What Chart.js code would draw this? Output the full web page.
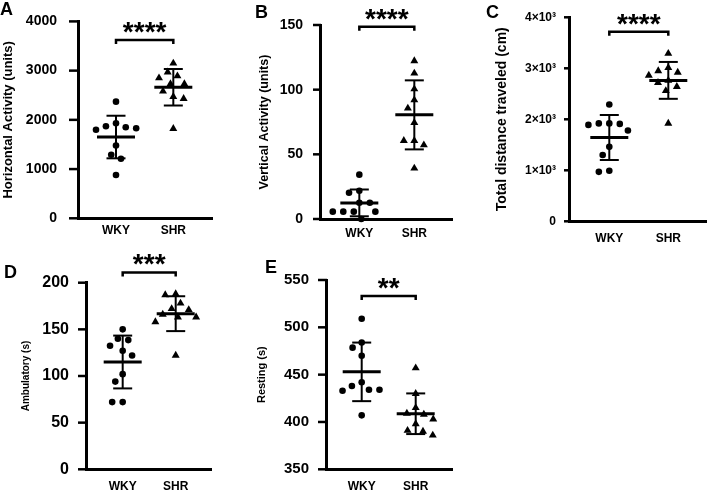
<!DOCTYPE html>
<html>
<head>
<meta charset="utf-8">
<script src="https://cdn.jsdelivr.net/npm/chart.js@4.4.0/dist/chart.umd.min.js"></script>
<style>
  body { margin: 0; background: #fff; width: 708px; height: 492px; position: relative; overflow: hidden; font-family: "Liberation Sans", Arial, sans-serif; }
  canvas { position: absolute; }
  .letter { position: absolute; font-weight: bold; font-size: 18px; line-height: 1; color: #000; }
</style>
</head>
<body>
<canvas id="cA" width="232" height="245" style="left:0;top:0"></canvas>
<canvas id="cB" width="236" height="245" style="left:232px;top:0"></canvas>
<canvas id="cC" width="238" height="252" style="left:470px;top:0"></canvas>
<canvas id="cD" width="232" height="247" style="left:0;top:245px"></canvas>
<canvas id="cE" width="236" height="247" style="left:232px;top:245px"></canvas>
<div class="letter" style="left:0;top:0">A</div>
<div class="letter" style="left:255px;top:3px">B</div>
<div class="letter" style="left:486px;top:3px">C</div>
<div class="letter" style="left:4px;top:263px">D</div>
<div class="letter" style="left:265px;top:258px">E</div>
<script>
// values
const groups = ['WKY', 'SHR'];

const horizWKY = [2370, 1850, 1930, 1800, 1830, 1870, 1480, 1290, 1210, 880];
const horizSHR = [3150, 2970, 2850, 2890, 2730, 2730, 2580, 2470, 2430, 1820];
const horizTicks = [0, 1000, 2000, 3000, 4000];

const vertWKY = [34.3, 20.3, 21.9, 12.6, 12.6, 5.7, 5.7, 5.7, 5.7, 0];
const vertSHR = [122.2, 112.7, 100.5, 92, 85.6, 74.5, 60.6, 57.2, 60.6, 39.2];
const vertTicks = [0, 50, 100, 150];

const distWKY = [2290, 1910, 1920, 1890, 1920, 1780, 1460, 1300, 970, 990];
const distSHR = [3290, 3010, 2950, 2920, 2860, 2720, 2760, 2640, 2560, 1920];
const distTicks = [0, 1000, 2000, 3000, 4000];
const distTickLabels = ['0', '1×10³', '2×10³', '3×10³', '4×10³'];

const ambWKY = [150, 140, 138.5, 132.5, 127, 122, 102, 94, 72, 72];
const ambSHR = [187, 188, 178, 172, 171, 166, 163, 163, 158, 122];
const ambTicks = [0, 50, 100, 150, 200];

const restWKY = [509, 484, 478.5, 470, 438, 442, 434, 434, 433, 407];
const restSHR = [457, 430, 415, 409, 408, 403, 398, 391, 390, 386];
const restTicks = [350, 400, 450, 500, 550];

// significance brackets
const sigLevels = [3620, 148.7, 3718, 211, 533];
const sigLabels = ['****', '****', '****', '***', '**'];

const FONT = '"Liberation Sans", Arial, sans-serif';
const DIAM = 10.5;

function line(ctx, x0, y0, x1, y1) {
  ctx.beginPath(); ctx.moveTo(x0, y0); ctx.lineTo(x1, y1); ctx.stroke();
}

// y tick marks, mean +/- SD and the significance bracket
const statsPlugin = {
  id: 'stats',
  afterDraw(chart, args, opts) {
    const { ctx } = chart;
    const x = chart.scales.x, y = chart.scales.y;
    const left = chart.chartArea.left;
    ctx.save();
    ctx.strokeStyle = '#000';
    ctx.fillStyle = '#000';
    ctx.lineWidth = 2.5;
    y.ticks.forEach(t => {
      const py = y.getPixelForValue(t.value);
      line(ctx, left - opts.tickLen, py, left + 1, py);
    });
    chart.data.datasets.forEach((ds, g) => {
      const vals = ds.values, n = vals.length;
      const m = vals.reduce((a, b) => a + b, 0) / n;
      const sd = Math.sqrt(vals.reduce((a, b) => a + (b - m) * (b - m), 0) / (n - 1));
      const cx = x.getPixelForValue(g);
      const yt = y.getPixelForValue(m + sd), yb = y.getPixelForValue(m - sd), ym = y.getPixelForValue(m);
      ctx.lineWidth = 2;
      line(ctx, cx, yt, cx, yb);
      line(ctx, cx - 9.5, yt, cx + 9.5, yt);
      line(ctx, cx - 9.5, yb, cx + 9.5, yb);
      ctx.lineWidth = 3;
      line(ctx, cx - 19, ym, cx + 19, ym);
    });
    const by = y.getPixelForValue(opts.level);
    const x0 = x.getPixelForValue(0), x1 = x.getPixelForValue(1);
    ctx.lineWidth = 2.5;
    ctx.beginPath();
    ctx.moveTo(x0, by + 4); ctx.lineTo(x0, by); ctx.lineTo(x1, by); ctx.lineTo(x1, by + 4);
    ctx.stroke();
    ctx.font = 'bold 28px ' + FONT;
    ctx.textAlign = 'center';
    ctx.textBaseline = 'alphabetic';
    ctx.fillText(opts.label, (x0 + x1) / 2, by - 14 + 15);
    ctx.restore();
  }
};

// column scatter: spread points sideways so they don't overlap
function swarm(chart) {
  const xs = chart.scales.x, ys = chart.scales.y;
  const unit = xs.getPixelForValue(1) - xs.getPixelForValue(0);
  chart.data.datasets.forEach((ds, g) => {
    const pts = ds.values.map((v, i) => ({ i, v, py: ys.getPixelForValue(v), dx: 0 }));
    pts.sort((a, b) => a.py - b.py);
    const placed = [];
    pts.forEach(p => {
      const cands = [0];
      placed.forEach(q => {
        const dy = Math.abs(p.py - q.py);
        if (dy < DIAM) {
          const w = Math.sqrt(DIAM * DIAM - dy * dy);
          cands.push(q.dx + w, q.dx - w);
        }
      });
      const ok = cands.filter(c => placed.every(q => Math.hypot(c - q.dx, p.py - q.py) >= DIAM - 0.01));
      ok.sort((a, b) => Math.abs(a) - Math.abs(b) || a - b);
      p.dx = ok[0];
      placed.push(p);
    });
    const data = [];
    pts.forEach(p => { data[p.i] = { x: g + p.dx / unit, y: p.v }; });
    ds.data = data;
  });
  chart.update('none');
}

function makePanel(id, box, area, wky, shr, ticks, tickLabels, yTitle, sigIdx, st) {
  const [bl, bt, bw, bh] = box;
  const [al, at, ar, ab, xmin, xmax] = area;
  const chart = new Chart(document.getElementById(id), {
    type: 'scatter',
    data: {
      datasets: [
        { values: wky, data: wky.map(v => ({ x: 0, y: v })), pointStyle: 'circle', pointRadius: 3.3,
          backgroundColor: '#000', borderColor: '#000', borderWidth: 0, clip: false },
        { values: shr, data: shr.map(v => ({ x: 1, y: v })), pointStyle: 'triangle', pointRadius: 4.6,
          backgroundColor: '#000', borderColor: '#000', borderWidth: 0, clip: false }
      ]
    },
    plugins: [statsPlugin],
    options: {
      responsive: false,
      animation: false,
      events: [],
      layout: { autoPadding: false, padding: { left: 0, top: at - bt, right: bl + bw - ar, bottom: 0 } },
      plugins: {
        legend: { display: false },
        tooltip: { enabled: false },
        stats: { level: sigLevels[sigIdx], label: sigLabels[sigIdx], tickLen: st.tickLen }
      },
      scales: {
        x: {
          type: 'linear', min: xmin, max: xmax,
          afterFit: s => { s.height = bt + bh - ab; },
          afterBuildTicks: s => { s.ticks = [{ value: 0 }, { value: 1 }]; },
          grid: { display: false },
          border: { display: true, width: 3, color: '#000' },
          ticks: {
            color: '#000', padding: st.xPad, maxRotation: 0, autoSkip: false,
            font: { family: FONT, size: 12, weight: 'bold' },
            callback: v => groups[v]
          }
        },
        y: {
          min: ticks[0], max: ticks[ticks.length - 1],
          afterFit: s => { s.width = al - bl; },
          afterBuildTicks: s => { s.ticks = ticks.map(v => ({ value: v })); },
          grid: { display: false },
          border: { display: true, width: 3, color: '#000' },
          ticks: {
            color: '#000', padding: st.tickPad, autoSkip: false,
            font: { family: FONT, size: st.tickSize, weight: 'bold' },
            callback: (v, i) => tickLabels ? tickLabels[i] : String(v)
          },
          title: {
            display: true, text: yTitle, color: '#000',
            font: { family: FONT, size: st.titleSize, weight: 'bold' },
            padding: { top: st.titleX - bl - st.titleSize * 0.6, bottom: 0 }
          }
        }
      }
    }
  });
  swarm(chart);
  return chart;
}

makePanel('cA', [0, 0, 232, 245], [78, 18.3, 212, 218.3, -0.663, 1.675],
  horizWKY, horizSHR, horizTicks, null, 'Horizontal Activity (units)', 0,
  { xPad: -2.5, tickPad: 13, tickLen: 9, tickSize: 14, titleSize: 13, titleX: 8 });

makePanel('cB', [232, 0, 236, 245], [320, 25, 452.7, 219, -0.715, 1.698],
  vertWKY, vertSHR, vertTicks, null, 'Vertical Activity (units)', 1,
  { xPad: -0.5, tickPad: 9, tickLen: 7, tickSize: 14, titleSize: 12.5, titleX: 265 });

makePanel('cC', [470, 0, 238, 252], [569, 17.3, 706, 221.3, -0.683, 1.639],
  distWKY, distSHR, distTicks, distTickLabels, 'Total distance traveled (cm)', 2,
  { xPad: 2.5, tickPad: 5, tickLen: 5, tickSize: 12, titleSize: 14, titleX: 501.7 });

makePanel('cD', [0, 245, 232, 247], [86, 282.7, 211.7, 469.3, -0.692, 1.679],
  ambWKY, ambSHR, ambTicks, null, 'Ambulatory (s)', 3,
  { xPad: 2.5, tickPad: 9, tickLen: 8, tickSize: 16, titleSize: 10, titleX: 26.7 });

makePanel('cE', [232, 245, 236, 247], [326, 280, 452.7, 469.3, -0.661, 1.685],
  restWKY, restSHR, restTicks, null, 'Resting (s)', 4,
  { xPad: 2.5, tickPad: 9, tickLen: 8, tickSize: 15, titleSize: 11, titleX: 261.7 });
</script>
</body>
</html>
